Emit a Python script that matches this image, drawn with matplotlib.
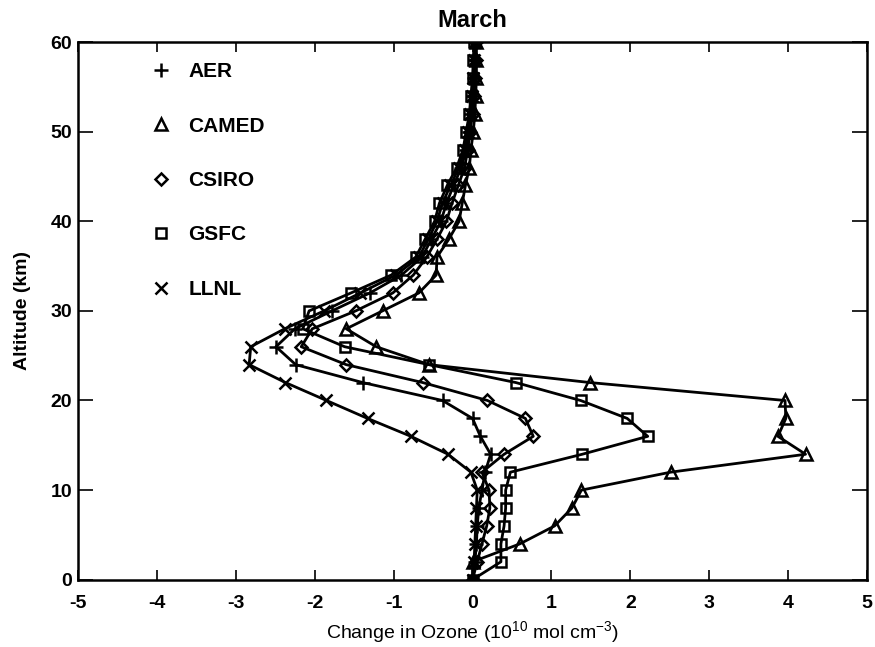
import matplotlib
matplotlib.use("Agg")
import matplotlib.pyplot as plt
from matplotlib.lines import Line2D

plt.rcParams["font.family"] = ["Liberation Sans", "DejaVu Sans"]
plt.rcParams["mathtext.fontset"] = "custom"
plt.rcParams["mathtext.rm"] = "Liberation Sans"
plt.rcParams["axes.unicode_minus"] = False

# altitude levels (km), every 2 km from 0 to 60
altitude = list(range(0, 61, 2))

# change in ozone (1e10 mol cm-3), one value per level
aer = [0.0, 0.03, 0.05, 0.06, 0.08, 0.12, 0.16, 0.23, 0.10, 0.0, -0.38,
       -1.39, -2.24, -2.49, -2.25, -1.78, -1.30, -0.90, -0.64, -0.52, -0.40,
       -0.33, -0.24, -0.14, -0.08, -0.04, -0.02, 0.0, 0.02, 0.03, 0.03]
camed = [0.0, 0.0, 0.60, 1.04, 1.26, 1.38, 2.51, 4.22, 3.87, 3.97, 3.96,
         1.49, -0.55, -1.22, -1.60, -1.14, -0.68, -0.46, -0.45, -0.30, -0.17,
         -0.13, -0.09, -0.04, -0.02, 0.01, 0.03, 0.04, 0.05, 0.05, 0.05]
csiro = [0.0, 0.06, 0.12, 0.18, 0.22, 0.21, 0.12, 0.40, 0.77, 0.67, 0.19,
         -0.63, -1.60, -2.17, -2.03, -1.48, -1.01, -0.75, -0.58, -0.45, -0.33,
         -0.26, -0.18, -0.10, -0.06, -0.03, 0.0, 0.02, 0.03, 0.04, 0.04]
gsfc = [0.0, 0.36, 0.36, 0.40, 0.42, 0.42, 0.48, 1.39, 2.22, 1.96, 1.37,
        0.55, -0.55, -1.62, -2.15, -2.07, -1.54, -1.03, -0.72, -0.60, -0.48,
        -0.42, -0.32, -0.20, -0.12, -0.08, -0.04, -0.02, 0.0, 0.01, 0.02]
llnl = [0.0, 0.02, 0.03, 0.04, 0.05, 0.06, -0.02, -0.31, -0.78, -1.33, -1.85,
        -2.37, -2.83, -2.81, -2.38, -1.88, -1.42, -0.97, -0.68, -0.56, -0.45,
        -0.38, -0.28, -0.17, -0.10, -0.06, -0.03, -0.01, 0.01, 0.02, 0.03]

models = ["AER", "CAMED", "CSIRO", "GSFC", "LLNL"]
series = [aer, camed, csiro, gsfc, llnl]
markers = ["+", "^", "D", "s", "x"]
msizes = [10, 9, 6.5, 6.5, 9]

fig = plt.figure(figsize=(8.75, 6.47), dpi=100)
ax = fig.add_axes([0.089, 0.104, 0.902, 0.831])

for vals, m, ms in zip(series, markers, msizes):
    ax.plot(vals, altitude, color="black", lw=2.0, marker=m, ms=ms,
            mfc="none", mec="black", mew=1.8)

ax.set_xlim(-5, 5)
ax.set_ylim(0, 60)
ax.set_xticks(range(-5, 6))
ax.set_yticks(range(0, 61, 10))
ax.tick_params(axis="x", direction="in", top=True, length=7, width=1.2,
               labelsize=14, pad=11)
ax.tick_params(axis="y", direction="in", right=True, length=11, width=1.2,
               labelsize=14, pad=4)
for lab in ax.get_xticklabels() + ax.get_yticklabels():
    lab.set_fontweight("bold")
for sp in ax.spines.values():
    sp.set_linewidth(1.8)

ax.set_title("March", fontsize=17, fontweight="bold", pad=11)
ax.set_xlabel(r"Change in Ozone (10$^{10}$ mol cm$^{-3}$)", fontsize=14,
              labelpad=5)
ax.set_ylabel("Altitude (km)", fontsize=14, fontweight="bold", labelpad=14)

handles = [Line2D([], [], ls="none", marker=m, ms=ms, mfc="none",
                  mec="black", mew=1.8) for m, ms in zip(markers, msizes)]
ax.legend(handles, models, loc="upper left", bbox_to_anchor=(0.082, 0.978),
          frameon=False, handlelength=1.0, handletextpad=0.8,
          labelspacing=1.7, borderaxespad=0,
          prop={"size": 15, "weight": "bold"})

fig.savefig("out.png", dpi=100)
